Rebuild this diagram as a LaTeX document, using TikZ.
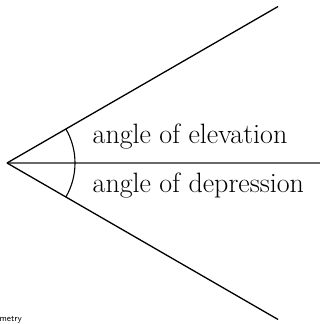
\documentclass[tikz,border=0pt]{standalone}
\usetikzlibrary{calc}
\definecolor{hgray}{RGB}{105,105,105}
\tikzset{sightfig/.style={x=1pt,y=1pt,line width=1.3pt},
  lbl/.style={anchor=base west,inner sep=0pt,font=\fontsize{28}{32}\selectfont}}

\begin{document}
\begin{tikzpicture}[sightfig]
    \useasboundingbox (0,0) rectangle (328,323);
    \def\len{313}\def\r{68}
    \coordinate (eye) at (7,160);
    \coordinate (up) at ($(eye)+(30:\len)$);
    \coordinate (down) at ($(eye)+(-30:\len)$);
    \coordinate (hor) at (320,160);
    \draw[hgray,line width=2.6pt] (eye) -- (hor);
    \draw (eye) -- (up);
    \draw (eye) -- (down);
    \draw[line width=1.1pt] ([shift={(-30:\r)}]eye) arc (-30:30:\r);
    \node[lbl] (elev) at (92,179) {angle of elevation};
    \node[lbl] (depr) at (92,130) {angle of depression};
    \node[anchor=base west,inner sep=0pt,font=\fontsize{9}{10}\sffamily] (src) at (-1,2) {metry};
\end{tikzpicture}
\end{document}
